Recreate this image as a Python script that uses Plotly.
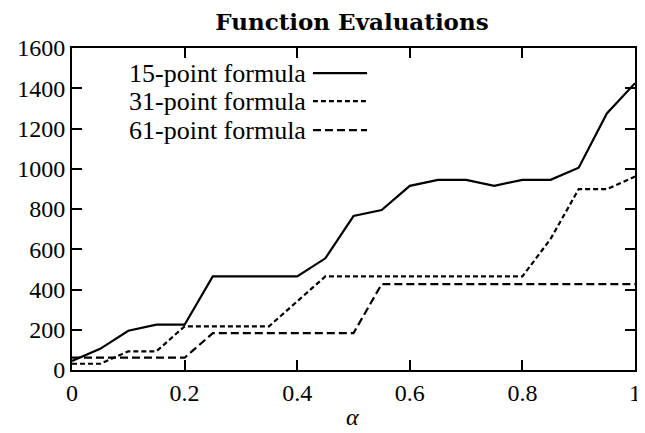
import plotly.graph_objects as go

alpha = [0.0, 0.05, 0.1, 0.15, 0.2, 0.25, 0.3, 0.35, 0.4, 0.45, 0.5,
         0.55, 0.6, 0.65, 0.7, 0.75, 0.8, 0.85, 0.9, 0.95, 1.0]
evals_15 = [45, 105, 195, 225, 225, 465, 465, 465, 465, 555, 765,
            795, 915, 945, 945, 915, 945, 945, 1005, 1275, 1425]
evals_31 = [31, 31, 93, 93, 217, 217, 217, 217, 341, 465, 465,
            465, 465, 465, 465, 465, 465, 651, 899, 899, 961]
evals_61 = [61, 61, 61, 61, 61, 183, 183, 183, 183, 183, 183,
            427, 427, 427, 427, 427, 427, 427, 427, 427, 427]
series_names = ["15-point formula", "31-point formula", "61-point formula"]
x_ticks = [0, 0.2, 0.4, 0.6, 0.8, 1]
x_tick_text = ["0", "0.2", "0.4", "0.6", "0.8", "1"]
y_ticks = [0, 200, 400, 600, 800, 1000, 1200, 1400, 1600]

FONT = "Liberation Serif, DejaVu Serif, serif"
dashes = ["solid", "5px,3px", "8px,4px"]
series = [evals_15, evals_31, evals_61]

fig = go.Figure()
for name, ys, d in zip(series_names, series, dashes):
    fig.add_trace(go.Scatter(x=alpha, y=ys, mode="lines", name=name,
                             line=dict(color="black", width=2.2, dash=d),
                             showlegend=False))

# manual legend: text right-aligned, line sample to the right
leg_y = [0.922, 0.835, 0.745]
for name, d, yy in zip(series_names, dashes, leg_y):
    fig.add_annotation(xref="paper", yref="paper", x=0.419, y=yy, text=name,
                       showarrow=False, xanchor="right", yanchor="middle",
                       font=dict(family=FONT, size=26, color="black"))
    fig.add_shape(type="line", xref="paper", yref="paper",
                  x0=0.428, x1=0.524, y0=yy, y1=yy,
                  line=dict(color="black", width=2.2, dash=d))

# x-axis title
fig.add_annotation(xref="paper", yref="paper", x=0.498, y=-0.145, text="<i>α</i>",
                   showarrow=False, xanchor="center", yanchor="middle",
                   font=dict(family=FONT, size=24, color="black"))

axis_common = dict(showgrid=False, zeroline=False, showline=True, linecolor="black",
                   linewidth=2, mirror="allticks", ticks="inside", ticklen=10,
                   tickwidth=1.5, tickcolor="black", automargin=False,
                   tickfont=dict(family=FONT, size=24, color="black"))
fig.update_xaxes(range=[0, 1], tickvals=x_ticks, ticktext=x_tick_text, **axis_common)
fig.update_yaxes(range=[0, 1600], tickvals=y_ticks, **axis_common)

# page body has an 8px margin, so the figure is sized to fit the window
fig.update_layout(
    width=637, height=425,
    margin=dict(l=64, r=10, t=40, b=63),
    paper_bgcolor="white", plot_bgcolor="white",
    title=dict(text="<b>Function Evaluations</b>", x=0.540, xanchor="center",
               y=0.967, yanchor="middle",
               font=dict(family="DejaVu Serif", size=23, color="black")),
)
fig.write_html("out.html")
